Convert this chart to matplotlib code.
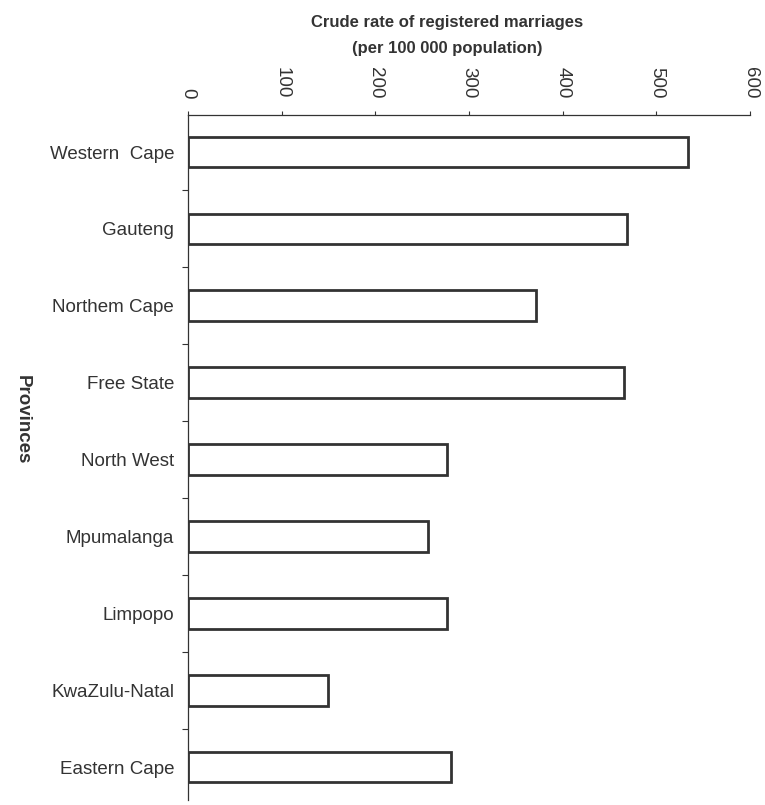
import numpy as np
import matplotlib.pyplot as plt
from matplotlib.ticker import FixedLocator

plt.rcParams['font.family'] = ['Liberation Sans', 'DejaVu Sans']

# data
provinces = ['Western  Cape', 'Gauteng', 'Northem Cape', 'Free State', 'North West',
             'Mpumalanga', 'Limpopo', 'KwaZulu-Natal', 'Eastern Cape']
rate = [534, 469, 372, 466, 276, 256, 277, 149, 281]
xticks = [0, 100, 200, 300, 400, 500, 600]

ink = '#333333'

fig = plt.figure(figsize=(7.65, 8.05), dpi=100)
ax = fig.add_axes([0.2458, 0.006, 0.7346, 0.851])

pos = np.arange(len(provinces))
ax.barh(pos, rate, height=0.4, color='white', edgecolor=ink, linewidth=2)

ax.set_xlim(0, 600)
ax.set_ylim(8.43, -0.48)

# x axis on top, rotated tick labels
ax.xaxis.tick_top()
ax.xaxis.set_label_position('top')
ax.set_xticks(xticks)
ax.set_xticklabels([str(v) for v in xticks], rotation=-90, fontsize=13.5, color=ink)
ax.tick_params(axis='x', length=3, width=0.8, color=ink, pad=9)
ax.set_xlabel('Crude rate of registered marriages\n(per 100 000 population)',
              fontsize=12, fontweight='bold', color=ink, linespacing=1.95)
ax.xaxis.set_label_coords(0.461, 1.09)

# category labels, small ticks between categories
ax.set_yticks(pos)
ax.set_yticklabels(provinces, fontsize=13.5, color=ink)
ax.tick_params(axis='y', which='major', length=0, pad=10)
ax.yaxis.set_minor_locator(FixedLocator(pos[:-1] + 0.5))
ax.tick_params(axis='y', which='minor', length=4, width=0.8, color=ink)
ax.set_ylabel('Provinces', rotation=-90, fontsize=13.5, fontweight='bold', color=ink, labelpad=0)
ax.yaxis.set_label_coords(-0.31, 0.555)

ax.spines['right'].set_visible(False)
ax.spines['bottom'].set_visible(False)
ax.spines['top'].set_color(ink)
ax.spines['left'].set_color(ink)
ax.spines['top'].set_linewidth(0.9)
ax.spines['left'].set_linewidth(0.9)

fig.savefig('out.png', dpi=100)
